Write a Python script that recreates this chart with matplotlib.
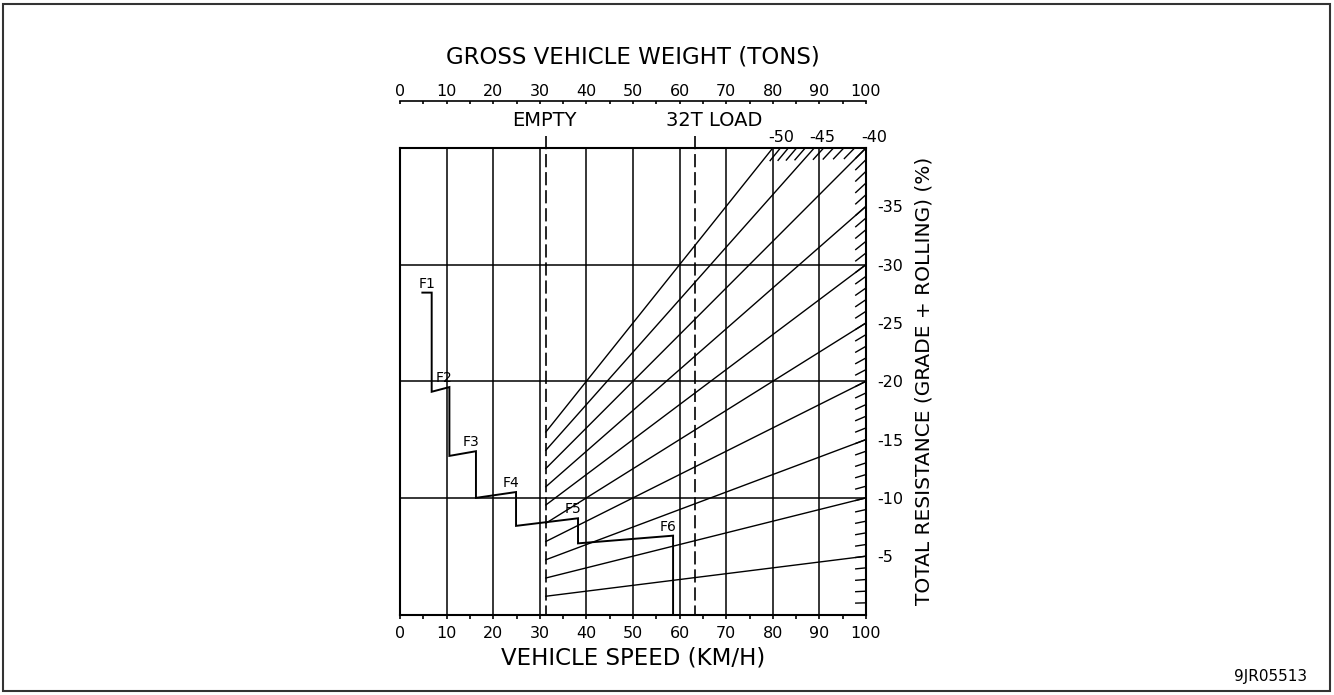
import numpy as np
import matplotlib
matplotlib.use("Agg")
from matplotlib import pyplot as plt
from matplotlib.patches import Rectangle

# scales
SPEED_TICKS  = list(range(0, 101, 10))
WEIGHT_TICKS = list(range(0, 101, 10))
RES_TICKS    = [5, 10, 15, 20, 25, 30, 35]
GRID_X       = list(range(10, 100, 10))
GRID_Y       = [10, 20, 30]

EMPTY_T = 31.3
LOAD_T  = 63.3

# total resistance lines (%) and the ones labelled along the top
RES_LINES  = [5, 10, 15, 20, 25, 30, 35, 40, 45, 50]
TOP_LABELS = [50, 45, 40]
# short marks for every whole percent
EDGE_MARKS = list(range(1, 41))
TOP_MARKS  = [41, 42, 43, 44, 46, 47, 48, 49]

# travel performance curve
GEARS  = ["F1", "F2", "F3", "F4", "F5", "F6"]
STEP_X = [4.8, 6.8, 6.8, 10.6, 10.6, 16.3, 16.3, 24.9, 24.9, 38.2, 38.2, 58.6, 58.6]
STEP_Y = [27.6, 27.6, 19.1, 19.5, 13.6, 14.0, 10.0, 10.5, 7.6, 8.25, 6.1, 6.76, 0.0]

FONT = "DejaVu Sans"
plt.rcParams['font.family'] = [FONT]
plt.rcParams['lines.scale_dashes'] = False

W, H = 1334, 695
fig = plt.figure(figsize=(W / 100, H / 100), dpi=100)

# outer frame
fig.patches.append(Rectangle((3 / W, 4 / H), 1327 / W, 687 / H, transform=fig.transFigure,
                             fill=False, lw=1.5, ec="#333333"))

L, T, R, B = 400, 148, 866, 614.5
ax = fig.add_axes([L / W, (H - B) / H, (R - L) / W, (B - T) / H])
ax.set_xlim(0, 100)
ax.set_ylim(0, 40)
for s in ax.spines.values():
    s.set_linewidth(1.5)

# grid
for gx in GRID_X:
    ax.axvline(gx, color="k", lw=1.1)
for gy in GRID_Y:
    ax.axhline(gy, color="k", lw=1.1)

# bottom speed axis
ax.set_xticks(SPEED_TICKS)
ax.set_xticks(np.arange(5, 100, 10), minor=True)
ax.tick_params(axis="x", which="both", direction="out", length=3, width=1.2, labelsize=11.5, pad=5)
ax.set_xlabel("VEHICLE SPEED (KM/H)", fontsize=16.5, labelpad=4)

# right resistance axis
ax.yaxis.tick_right()
ax.set_yticks(RES_TICKS)
ax.set_yticklabels(["-%d" % v for v in RES_TICKS])
ax.tick_params(axis="y", length=0, labelsize=11.5, pad=8)
ax.yaxis.set_label_position("right")
ax.set_ylabel("TOTAL RESISTANCE (GRADE + ROLLING) (%)", fontsize=14.5, labelpad=8)

# top weight axis, ticks pointing up away from the chart
sec = ax.secondary_xaxis(1 + 46.5 / (B - T))
sec.set_xticks(WEIGHT_TICKS)
sec.set_xticks(np.arange(5, 100, 10), minor=True)
sec.tick_params(axis="x", which="both", direction="in", length=2.5, width=1.2, labelsize=11.5, pad=1.5)
sec.spines["top"].set_linewidth(1.2)
sec.set_xlabel("GROSS VEHICLE WEIGHT (TONS)", fontsize=16.5, labelpad=15)

# empty / loaded weight lines
for wt in (EMPTY_T, LOAD_T):
    ax.plot([wt, wt], [41.0, 0], color="k", lw=1.2, ls=(0, (9.5, 3.5)), clip_on=False)
ax.annotate("EMPTY", (EMPTY_T, 40), xytext=(-1, 28), textcoords="offset pixels",
            ha="center", va="center", fontsize=14, annotation_clip=False)
ax.annotate("32T LOAD", (LOAD_T, 40), xytext=(19, 28), textcoords="offset pixels",
            ha="center", va="center", fontsize=14, annotation_clip=False)

# resistance lines from the empty weight outwards
for r in RES_LINES:
    x_end = min(100.0, 4000.0 / r)
    xs = np.array([EMPTY_T, x_end])
    ax.plot(xs, r * xs / 100, color="k", lw=1.0)
for r in TOP_LABELS:
    ax.annotate("-%d" % r, (4000.0 / r, 40), xytext=(8, 10), textcoords="offset pixels",
                ha="center", va="center", fontsize=11.5, annotation_clip=False)

# short marks at the chart edge
for r in EDGE_MARKS + TOP_MARKS:
    x_end = min(100.0, 4000.0 / r)
    xs = np.array([x_end - 2.2, x_end])
    ax.plot(xs, r * xs / 100, color="k", lw=1.0)

# gear curve
ax.plot(STEP_X, STEP_Y, color="k", lw=1.4, solid_joinstyle="miter")
for i, g in enumerate(GEARS):
    cx, cy = STEP_X[2 * i + 1], STEP_Y[2 * i + 1]
    ax.annotate(g, (cx, cy), xytext=(-5, 9), textcoords="offset pixels",
                ha="center", va="center", fontsize=10)

fig.text(1271 / W, 1 - 677 / H, "9JR05513", ha="center", va="center", fontsize=11)

fig.savefig("out.png", dpi=100)
